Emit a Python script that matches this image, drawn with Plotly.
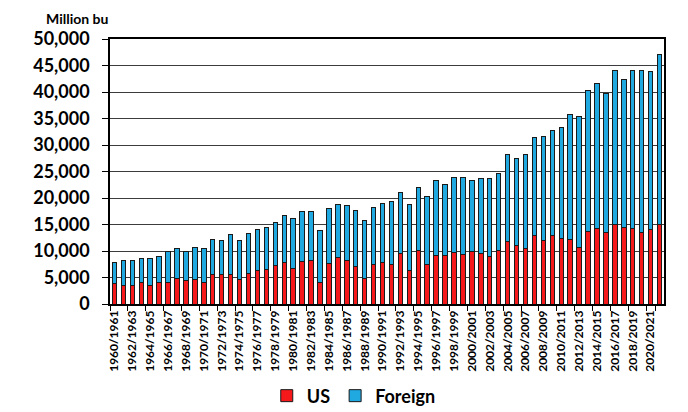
import plotly.graph_objects as go

years = [f"{y}/{y+1}" for y in range(1960, 2022)]

total = [7810, 8190, 8190, 8560, 8500, 8880, 9820, 10390, 9820, 10640,
         10520, 12220, 11900, 13040, 11900, 13350, 14040, 14360, 15430, 16750,
         16120, 17440, 17380, 13790, 18070, 18830, 18640, 17690, 15800, 18130,
         19020, 19390, 21090, 18700, 21980, 20280, 23300, 22610, 23800, 23870,
         23240, 23610, 23680, 24680, 28150, 27460, 28150, 31490, 31670, 32740,
         33370, 35770, 35330, 40360, 41560, 39800, 44140, 42440, 44140, 44020,
         43890, 47170]

us = [3900, 3530, 3530, 3970, 3530, 4090, 4090, 4850, 4470, 4660,
      4090, 5600, 5600, 5600, 4660, 5790, 6230, 6490, 7240, 7870,
      6610, 8060, 8250, 4090, 7680, 8820, 8190, 7120, 4850, 7490,
      7870, 7490, 9450, 6300, 10010, 7370, 9190, 9190, 9760, 9380,
      9820, 9450, 9010, 10080, 11780, 11080, 10520, 12970, 12030, 12970,
      12410, 12220, 10710, 13730, 14170, 13540, 14990, 14480, 14230, 13540,
      14110, 14920]

foreign = [t - u for t, u in zip(total, us)]

y_ticks = list(range(0, 50001, 5000))
label_years = years[::2]

FONT = "Lato"

fig = go.Figure()
fig.add_trace(go.Bar(
    x=years, y=us, name="US",
    marker=dict(color="#F5191C", line=dict(color="#1a1a1a", width=1)),
))
fig.add_trace(go.Bar(
    x=years, y=foreign, name="Foreign",
    marker=dict(color="#20A8E0", line=dict(color="#1a1a1a", width=1)),
))

fig.update_layout(
    barmode="stack",
    bargap=0.5,
    width=680, height=404,
    margin=dict(l=102, r=24, t=31, b=108, autoexpand=False),
    paper_bgcolor="white",
    plot_bgcolor="white",
    font=dict(family=FONT, color="black", weight="bold"),
    legend=dict(
        orientation="h",
        x=0.44, xanchor="center",
        y=-0.347, yanchor="middle",
        font=dict(size=18, family=FONT, weight="bold"),
        itemwidth=30,
        tracegroupgap=0,
        traceorder="normal",
    ),
    annotations=[dict(
        text="Million bu", xref="paper", yref="paper",
        x=-0.12, y=1 + 21 / 265, xanchor="left", yanchor="middle",
        showarrow=False, font=dict(size=14, family=FONT, weight="bold"),
    )],
)

fig.update_xaxes(
    type="category",
    tickvals=label_years,
    ticktext=label_years,
    tickangle=-90,
    tickfont=dict(size=12, family=FONT, weight="bold"),
    ticks="outside", ticklen=5, tickcolor="black",
    tickson="boundaries",
    showline=True, linecolor="black", linewidth=1.5,
    mirror=True,
    showgrid=False,
)
fig.update_yaxes(
    range=[0, 50000],
    tickvals=y_ticks,
    tickformat=",",
    tickfont=dict(size=18, family=FONT, weight="bold"),
    ticks="outside", ticklen=6, tickcolor="black",
    ticklabelstandoff=9,
    showline=True, linecolor="black", linewidth=1.5,
    mirror=True,
    showgrid=True, gridcolor="#3c3c3c", gridwidth=1.2,
    zeroline=False,
)

fig.write_html("out.html")
